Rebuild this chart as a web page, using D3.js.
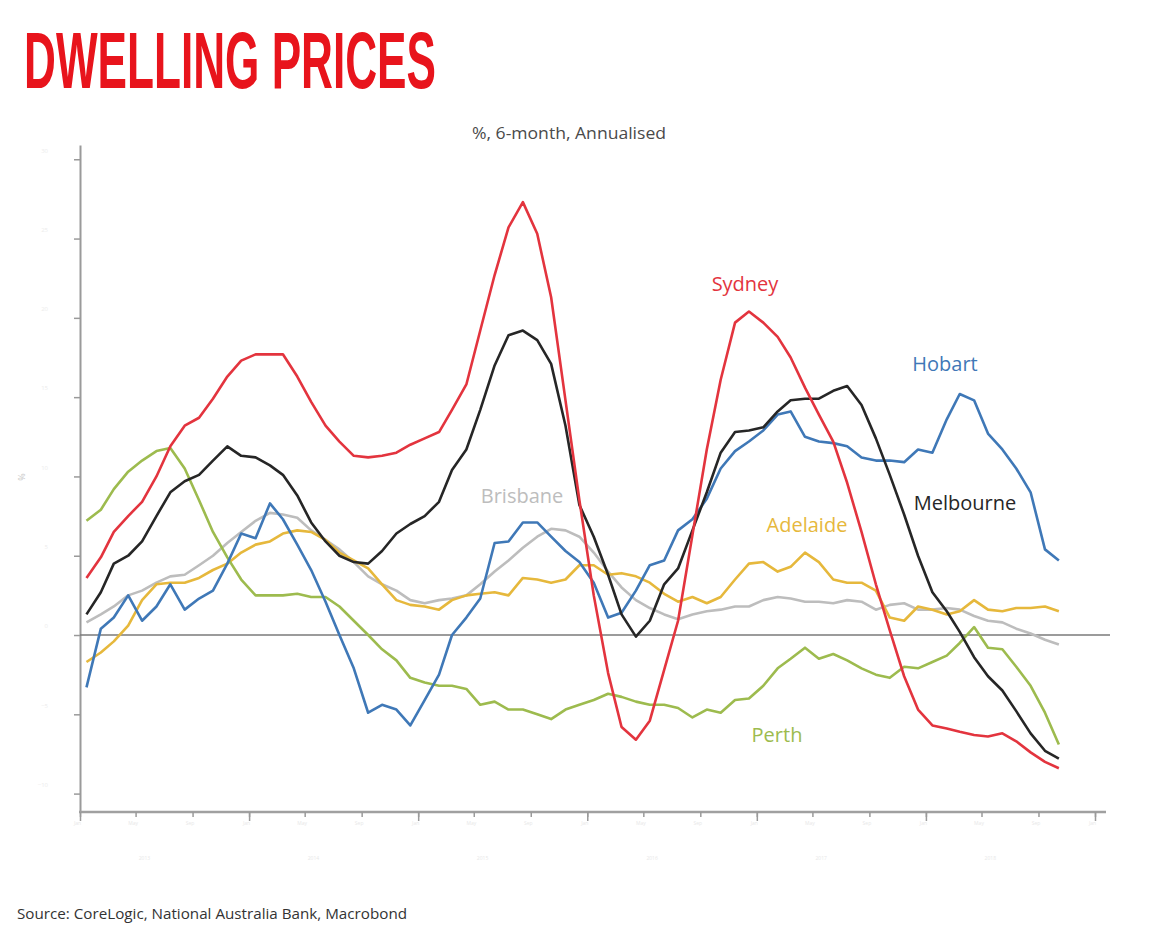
<!DOCTYPE html>
<html><head><meta charset="utf-8">
<script src="https://cdn.jsdelivr.net/npm/d3@7"></script>
<style>body{margin:0;background:#fff}</style>
</head><body><svg id="c" width="1160" height="942"></svg>
<script>
// ---- data (6-month annualised % change, monthly Jan 2013 .. Oct 2018) ----
const cities = ["Sydney","Melbourne","Brisbane","Adelaide","Perth","Hobart"];
const firstMonth = [2013, 0];
const lastMonth = [2018, 9];
const sydney = [3.6,4.9,6.5,7.5,8.4,10.0,11.9,13.2,13.7,14.9,16.3,17.3,17.7,17.7,17.7,16.3,14.7,13.2,12.2,11.3,
  11.2,11.3,11.5,12.0,12.4,12.8,14.2,15.8,19.2,22.7,25.7,27.3,25.3,21.3,14.8,8.5,2.5,-2.4,-5.8,-6.6,
  -5.4,-2.2,0.9,6.3,11.7,16.1,19.7,20.4,19.7,18.8,17.5,15.6,13.9,12.2,9.6,6.5,3.2,0.3,-2.6,-4.7,
  -5.7,-5.9,-6.1,-6.3,-6.4,-6.2,-6.7,-7.4,-8.0,-8.4];
const melbourne = [1.3,2.7,4.5,5.0,5.9,7.5,9.0,9.7,10.1,11.0,11.9,11.3,11.2,10.7,10.1,8.8,7.1,5.9,5.0,4.6,
  4.5,5.3,6.4,7.0,7.5,8.4,10.4,11.7,14.2,17.0,18.9,19.2,18.6,17.1,13.2,8.2,6.2,3.8,1.3,-0.1,
  0.9,3.2,4.2,6.6,9.0,11.5,12.8,12.9,13.1,14.1,14.8,14.9,14.9,15.4,15.7,14.5,12.4,10.1,7.6,5.0,
  2.7,1.5,0.2,-1.4,-2.6,-3.5,-4.8,-6.2,-7.3,-7.8];
const brisbane = [0.8,1.3,1.8,2.5,2.8,3.3,3.7,3.8,4.4,5.0,5.8,6.5,7.2,7.7,7.6,7.4,6.6,6.0,5.4,4.6,
  3.7,3.2,2.8,2.2,2.0,2.2,2.3,2.5,3.2,4.0,4.7,5.5,6.2,6.7,6.6,6.2,5.2,4.0,3.0,2.2,
  1.7,1.3,1.0,1.3,1.5,1.6,1.8,1.8,2.2,2.4,2.3,2.1,2.1,2.0,2.2,2.1,1.6,1.9,2.0,1.6,
  1.6,1.7,1.6,1.2,0.9,0.8,0.4,0.1,-0.3,-0.6];
const adelaide = [-1.7,-1.1,-0.4,0.6,2.2,3.2,3.3,3.3,3.6,4.1,4.5,5.2,5.7,5.9,6.4,6.6,6.5,6.0,5.2,4.7,
  4.2,3.2,2.2,1.9,1.8,1.6,2.2,2.5,2.6,2.7,2.5,3.6,3.5,3.3,3.5,4.4,4.4,3.8,3.9,3.7,
  3.3,2.6,2.1,2.4,2.0,2.4,3.5,4.5,4.6,4.0,4.3,5.2,4.6,3.5,3.3,3.3,2.8,1.1,0.9,1.8,
  1.6,1.3,1.5,2.2,1.6,1.5,1.7,1.7,1.8,1.5];
const perth = [7.2,7.9,9.2,10.3,11.0,11.6,11.8,10.5,8.5,6.5,4.9,3.5,2.5,2.5,2.5,2.6,2.4,2.4,1.8,0.9,
  0.0,-0.9,-1.6,-2.7,-3.0,-3.2,-3.2,-3.4,-4.4,-4.2,-4.7,-4.7,-5.0,-5.3,-4.7,-4.4,-4.1,-3.7,-3.9,-4.2,
  -4.4,-4.4,-4.6,-5.2,-4.7,-4.9,-4.1,-4.0,-3.2,-2.1,-1.5,-0.8,-1.5,-1.2,-1.6,-2.1,-2.5,-2.7,-2.0,-2.1,
  -1.7,-1.3,-0.5,0.5,-0.8,-0.9,-2.0,-3.2,-4.9,-6.9];
const hobart = [-3.3,0.4,1.1,2.5,0.9,1.8,3.2,1.6,2.3,2.8,4.5,6.4,6.1,8.3,7.3,5.7,4.1,2.1,0.0,-2.1,
  -4.9,-4.4,-4.7,-5.7,-4.1,-2.5,0.0,1.1,2.3,5.8,5.9,7.1,7.1,6.2,5.3,4.6,3.3,1.1,1.4,2.8,
  4.4,4.7,6.6,7.3,8.6,10.5,11.6,12.2,12.9,13.9,14.1,12.5,12.2,12.1,11.9,11.2,11.0,11.0,10.9,11.7,
  11.5,13.6,15.2,14.8,12.7,11.7,10.5,9.0,5.4,4.7];
const yTicks = [-10,-5,0,5,10,15,20,25,30];
const yearLabels = [2013,2014,2015,2016,2017,2018];
const monthLabels = ["Jan","May","Sep"];
const colors = ["#e3343e","#262626","#bdbdbd","#e6b83c","#9dbb4e","#3f78b7"];

const series = [sydney, melbourne, brisbane, adelaide, perth, hobart];

// ---- chart ----
const svg = d3.select("#c");
const months = d3.utcMonth.range(new Date(Date.UTC(firstMonth[0], firstMonth[1], 1)),
                                  new Date(Date.UTC(lastMonth[0], lastMonth[1] + 1, 1)));
const dates = months.map(m => d3.utcDay.offset(m, 14));

const x = d3.scaleUtc().domain([new Date(Date.UTC(2013,0,1)), new Date(Date.UTC(2019,0,1))]).range([80, 1095]);
const y = d3.scaleLinear().domain([-11.16, 30.9]).range([812, 145]);

// title
svg.append("text").attr("x", 24).attr("y", 88)
  .attr("font-family", "'Liberation Sans','Arial',sans-serif")
  .attr("font-weight", "bold").attr("font-size", 80).attr("fill", "#e8141c")
  .attr("textLength", 412).attr("lengthAdjust", "spacingAndGlyphs")
  .text("DWELLING PRICES");

svg.append("text").attr("x", 569).attr("y", 139).attr("text-anchor", "middle")
  .attr("font-family", "'Open Sans',sans-serif").attr("font-size", 16).attr("fill", "#4a4a4a")
  .attr("textLength", 194).attr("lengthAdjust", "spacingAndGlyphs")
  .text("%, 6-month, Annualised");

svg.append("text").attr("x", 17).attr("y", 919)
  .attr("font-family", "'Open Sans',sans-serif").attr("font-size", 14.5).attr("fill", "#333")
  .attr("textLength", 390).attr("lengthAdjust", "spacingAndGlyphs")
  .text("Source: CoreLogic, National Australia Bank, Macrobond");

// y axis
const yAxis = svg.append("g").attr("transform", "translate(80,0)")
  .call(d3.axisLeft(y).tickValues(yTicks).tickSize(6).tickSizeOuter(0).tickPadding(26));
yAxis.select(".domain").attr("stroke", "#9a9a9a").attr("stroke-width", 2);
yAxis.selectAll(".tick line").attr("stroke", "#9a9a9a").attr("stroke-width", 1.5);
yAxis.selectAll(".tick text").attr("fill", "#ececec").attr("font-size", 6).attr("dy", "-1.2em")
  .attr("font-family", "'Open Sans',sans-serif");

svg.append("text").attr("transform", "translate(25,477) rotate(-90)").attr("text-anchor", "middle")
  .attr("font-family", "'Open Sans',sans-serif").attr("font-size", 9).attr("fill", "#c8c8c8").text("%");

// x axis
const xg = svg.append("g").attr("transform", "translate(0,812)");
xg.append("line").attr("x1", 79).attr("x2", 1106).attr("stroke", "#a0a0a0").attr("stroke-width", 2.5);
const minor = xg.append("g").call(d3.axisBottom(x).ticks(d3.utcMonth.every(4)).tickSize(5).tickPadding(4)
  .tickFormat(d => monthLabels[d.getUTCMonth() / 4]));
minor.select(".domain").remove();
minor.selectAll(".tick line").attr("stroke", "#9a9a9a").attr("stroke-width", 1.5);
minor.selectAll(".tick text").attr("fill", "#e8e8e8").attr("font-size", 5).attr("dx", -3)
  .attr("font-family", "'Open Sans',sans-serif");
const major = xg.append("g").call(d3.axisBottom(x).ticks(d3.utcYear.every(1)).tickSize(9).tickFormat(""));
major.select(".domain").remove();
major.selectAll(".tick line").attr("stroke", "#9a9a9a").attr("stroke-width", 1.5);
xg.selectAll(".yl").data(yearLabels).join("text").attr("class", "yl")
  .attr("x", d => x(new Date(Date.UTC(d, 4, 20)))).attr("y", 48).attr("text-anchor", "middle")
  .attr("font-family", "'Open Sans',sans-serif").attr("font-size", 5).attr("fill", "#e8e8e8")
  .text(d => d);

// zero line
svg.append("line").attr("x1", 80).attr("x2", 1110).attr("y1", y(0)).attr("y2", y(0))
  .attr("stroke", "#7a7a7a").attr("stroke-width", 1.5);

// lines
const order = [2, 3, 4, 5, 1, 0];
const line = d3.line().x((d, i) => x(dates[i])).y(d => y(d));
order.forEach(k => {
  svg.append("path").datum(series[k]).attr("d", line).attr("fill", "none")
    .attr("stroke", colors[k]).attr("stroke-width", 2.6).attr("stroke-linejoin", "round");
});

// labels
const labels = [
  {c: 0, x: 745, y: 291},
  {c: 5, x: 945, y: 371},
  {c: 1, x: 965, y: 510},
  {c: 2, x: 522, y: 503},
  {c: 3, x: 807, y: 532},
  {c: 4, x: 777, y: 742}
];
svg.selectAll(".lab").data(labels).join("text").attr("class", "lab")
  .attr("x", d => d.x).attr("y", d => d.y).attr("text-anchor", "middle")
  .attr("font-family", "'Open Sans',sans-serif").attr("font-size", 20)
  .attr("fill", d => colors[d.c]).text(d => cities[d.c]);
</script>
</body></html>
